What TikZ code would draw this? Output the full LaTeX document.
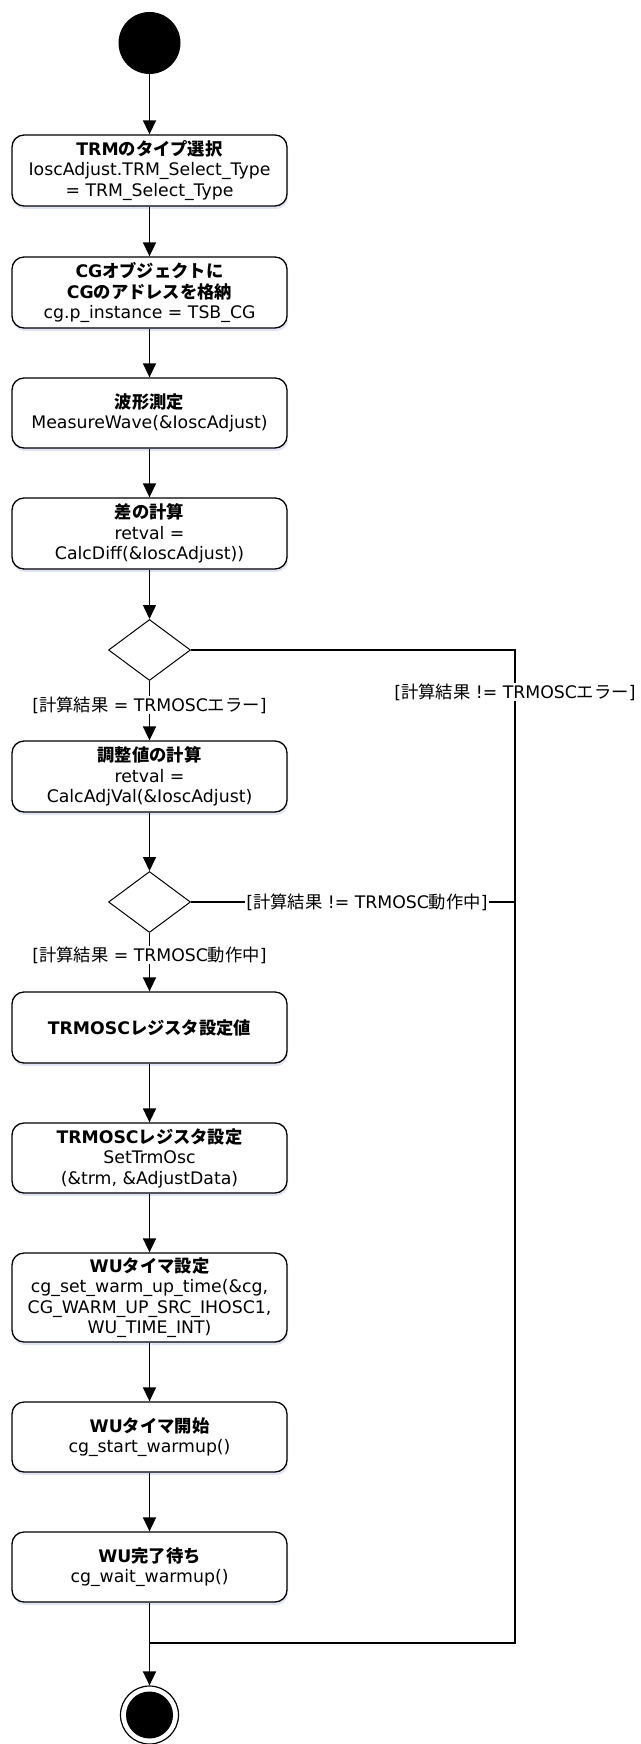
\documentclass[tikz,border=0pt]{standalone}
\usepackage{fontspec}
\setmainfont{DejaVu Sans}
\newfontfamily\jp{Noto Sans CJK JP}
\usetikzlibrary{arrows.meta,shapes.geometric,shadows}
\begin{document}
\begin{tikzpicture}[x=1pt,y=-1pt,
  every node/.style={font=\fontsize{17.3}{20.5}\selectfont},
  act/.style={draw, line width=1.3pt, rounded corners=12pt, fill=white,
    minimum width=275pt, align=center, inner sep=2pt,
    drop shadow={shadow xshift=1pt, shadow yshift=-3pt, fill=cyan!40!blue!20, opacity=0.6}},
  dec/.style={diamond, draw, line width=1pt, fill=white, minimum width=82pt, minimum height=61pt, inner sep=0pt},
  flow/.style={line width=1.6pt, -{Triangle[width=13pt,length=14pt]}},
  line/.style={line width=1.6pt},
  guard/.style={fill=white, inner sep=1pt}]
\useasboundingbox (0,0) rectangle (640,1744);
\node[circle, fill=black, minimum size=62pt, inner sep=0pt] (start) at (149.5,43) {};
\node[act, minimum height=71pt] (b1) at (149.5,170.5) {\textbf{TRM{\jp のタイプ選択}}\\IoscAdjust.TRM\_Select\_Type\\= TRM\_Select\_Type};
\node[act, minimum height=71pt] (b2) at (149.5,292.5) {\textbf{CG{\jp オブジェクトに}}\\\textbf{CG{\jp のアドレスを格納}}\\cg.p\_instance = TSB\_CG};
\node[act, minimum height=70pt] (b3) at (149.5,413) {\textbf{\jp 波形測定}\\MeasureWave(\&IoscAdjust)};
\node[act, minimum height=71pt] (b4) at (149.5,533.5) {\textbf{\jp 差の計算}\\retval =\\CalcDiff(\&IoscAdjust))};
\node[dec] (d1) at (149.5,650) {};
\node[act, minimum height=71pt] (b5) at (149.5,776.5) {\textbf{\jp 調整値の計算}\\retval =\\CalcAdjVal(\&IoscAdjust)};
\node[dec] (d2) at (149.5,902) {};
\node[act, minimum height=71pt] (b6) at (149.5,1027.5) {\textbf{TRMOSC{\jp レジスタ設定値}}};
\node[act, minimum height=70pt] (b7) at (149.5,1158) {\textbf{TRMOSC{\jp レジスタ設定}}\\SetTrmOsc\\(\&trm, \&AdjustData)};
\node[act, minimum height=89pt] (b8) at (149.5,1297.5) {\textbf{WU{\jp タイマ設定}}\\cg\_set\_warm\_up\_time(\&cg,\\CG\_WARM\_UP\_SRC\_IHOSC1,\\WU\_TIME\_INT)};
\node[act, minimum height=70pt] (b9) at (149.5,1437) {\textbf{WU{\jp タイマ開始}}\\cg\_start\_warmup()};
\node[act, minimum height=70pt] (b10) at (149.5,1567) {\textbf{WU{\jp 完了待ち}}\\cg\_wait\_warmup()};
\coordinate (merge) at (149.5,1643);
\coordinate (rx) at (515,0);
\node[circle, draw, line width=1.2pt, fill=white, minimum size=58pt, inner sep=0pt] (end) at (149.5,1715) {};
\node[circle, fill=black, minimum size=47pt, inner sep=0pt] (endin) at (end.center) {};
% connectors
\draw[flow] (start) -- (b1);
\draw[flow] (b1) -- (b2);
\draw[flow] (b2) -- (b3);
\draw[flow] (b3) -- (b4);
\draw[flow] (b4) -- (d1);
\draw[flow] (d1) -- (b5);
\draw[flow] (b5) -- (d2);
\draw[flow] (d2) -- (b6);
\draw[flow] (b6) -- (b7);
\draw[flow] (b7) -- (b8);
\draw[flow] (b8) -- (b9);
\draw[flow] (b9) -- (b10);
\draw[flow] (b10) -- (end);
\draw[line] (d1.east) -- (d1.east -| rx) -- (merge -| rx) -- (merge);
\draw[line] (d2.east) -- (d2.east -| rx);
% guards
\node[guard] (g1) at (149.5,705) {[{\jp 計算結果} = TRMOSC{\jp エラー}]};
\node[guard] (g2) at (515,692) {[{\jp 計算結果} != TRMOSC{\jp エラー}]};
\node[guard] (g3) at (367,902) {[{\jp 計算結果} != TRMOSC{\jp 動作中}]};
\node[guard] (g4) at (149.5,955) {[{\jp 計算結果} = TRMOSC{\jp 動作中}]};
\end{tikzpicture}
\end{document}
